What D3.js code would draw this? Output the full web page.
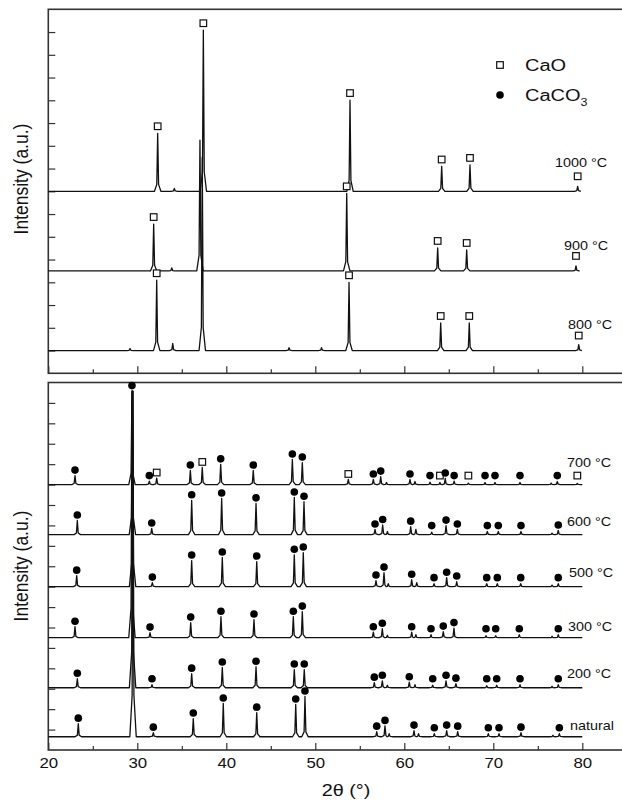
<!DOCTYPE html>
<html>
<head>
<meta charset="utf-8">
<script src="https://cdn.jsdelivr.net/npm/d3@7"></script>
<style>
    body { margin: 0; background: #fff; }
    svg { display: block; font-family: "Liberation Sans", Arial, sans-serif; }
    .trace { fill: none; stroke: #111; stroke-width: 1.3; stroke-linejoin: round; }
    .frame { fill: none; stroke: #333; stroke-width: 1.6; }
    .tick line { stroke: #333; stroke-width: 1.2; }
    .sq { fill: #fff; stroke: #111; stroke-width: 1.2; }
    .dot { fill: #000; }
</style>
</head>
<body>
<svg id="chart"></svg>
<script>
// 2theta axis
const thetaMajor = [20, 30, 40, 50, 60, 70, 80]
const thetaMinor = [25, 35, 45, 55, 65, 75]

// intensity ticks (arbitrary counts)
const topTicks = d3.range(100, 1600, 100)
const bottomTicks = d3.range(100, 1800, 100)

// peaks: [2theta, height above baseline, phase]  phase: 'o' = CaO, 'c' = CaCO3, '' = unmarked
const topLabels = ['1000 °C', '900 °C', '800 °C']
const topBaselines = [800, 450, 100]
const topEnds = [79.7, 79.7, 79.75]
const topPeaks = [
    [[32.29, 255, 'o'], [34.16, 13, ''], [37.42, 708, 'o'], [53.9, 401, 'o'], [64.2, 109, 'o'], [67.38, 116, 'o'], [79.48, 22, 'o']],
    [[31.84, 206, 'o'], [33.87, 13, ''], [37.04, 575, ''], [53.53, 341, 'o'], [63.75, 101, 'o'], [67.01, 92, 'o'], [79.29, 22, 'o']],
    [[29.18, 9, ''], [32.18, 309, 'o'], [33.98, 31, ''], [37.3, 850, ''], [47.05, 13, ''], [50.7, 13, ''], [53.79, 300, 'o'], [64.09, 121, 'o'], [67.3, 121, 'o'], [79.6, 26, 'o']]
]

const bottomLabels = ['700 °C', '600 °C', '500 °C', '300 °C', '200 °C', 'natural']
const bottomBaselines = [1300, 1055, 800, 550, 305, 65]
const bottomEnds = [80, 80, 80, 80, 80, 80]
const bottomPeaks = [
    [[23.0, 44, 'c'], [29.40, 458, 'c'], [31.35, 17, 'c'], [32.18, 32, 'o'], [35.96, 69, 'c'], [37.3, 84, 'o'], [39.37, 99, 'c'], [43.03, 69, 'c'], [47.42, 123, 'c'], [48.54, 108, 'c'], [53.71, 25, 'o'], [56.52, 25, 'c'], [57.35, 39, 'c'], [58.0, 10, ''], [60.64, 25, 'c'], [61.2, 15, ''], [62.89, 12, 'c'], [64.0, 10, 'o'], [64.6, 30, 'c'], [65.6, 17, 'c'], [67.2, 7, 'o'], [69.07, 10, 'c'], [70.19, 10, 'c'], [73.0, 10, 'c'], [76.5, 7, ''], [77.19, 15, 'c'], [79.44, 5, 'o']],
    [[23.26, 69, 'c'], [29.45, 703, ''], [31.62, 30, 'c'], [36.11, 168, 'c'], [39.48, 177, 'c'], [43.34, 153, 'c'], [47.64, 182, 'c'], [48.73, 161, 'c'], [56.71, 25, 'c'], [57.57, 47, 'c'], [58.1, 15, ''], [60.72, 39, 'c'], [61.3, 25, ''], [63.08, 12, 'c'], [64.69, 44, 'c'], [65.96, 25, 'c'], [69.33, 15, 'c'], [70.56, 15, 'c'], [73.11, 15, 'c'], [76.6, 7, ''], [77.3, 20, 'c']],
    [[23.19, 54, 'c'], [29.47, 958, ''], [31.69, 20, 'c'], [36.11, 128, 'c'], [39.55, 143, 'c'], [43.42, 123, 'c'], [47.64, 156, 'c'], [48.65, 167, 'c'], [56.82, 30, 'c'], [57.72, 69, 'c'], [58.2, 15, ''], [60.83, 34, 'c'], [61.4, 20, ''], [63.34, 15, 'c'], [64.76, 44, 'c'], [65.89, 25, 'c'], [69.26, 15, 'c'], [70.45, 15, 'c'], [73.08, 15, 'c'], [76.6, 7, ''], [77.3, 15, 'c']],
    [[23.0, 54, 'c'], [29.40, 1208, ''], [31.43, 25, 'c'], [36.0, 74, 'c'], [39.4, 103, 'c'], [43.11, 89, 'c'], [47.53, 103, 'c'], [48.54, 128, 'c'], [56.52, 27, 'c'], [57.53, 44, 'c'], [58.1, 12, ''], [60.83, 27, 'c'], [61.3, 15, ''], [63.0, 15, 'c'], [64.38, 30, 'c'], [65.58, 47, 'c'], [69.18, 10, 'c'], [70.27, 10, 'c'], [72.92, 15, 'c'], [76.6, 7, ''], [77.3, 15, 'c']],
    [[23.26, 44, 'c'], [29.47, 1453, ''], [31.65, 15, 'c'], [36.11, 69, 'c'], [39.55, 99, 'c'], [43.34, 103, 'c'], [47.64, 89, 'c'], [48.76, 89, 'c'], [56.63, 25, 'c'], [57.53, 34, 'c'], [58.1, 12, ''], [60.56, 27, 'c'], [61.2, 15, ''], [63.19, 12, 'c'], [64.69, 34, 'c'], [65.8, 20, 'c'], [69.26, 10, 'c'], [70.38, 12, 'c'], [73.0, 15, 'c'], [76.6, 7, ''], [77.3, 15, 'c']],
    [[23.37, 64, 'c'], [29.52, 1693, ''], [31.8, 20, 'c'], [36.29, 89, 'c'], [39.66, 163, 'c'], [43.42, 118, 'c'], [47.8, 158, 'c'], [48.84, 197, 'c'], [56.9, 25, 'c'], [57.83, 53, 'c'], [58.3, 15, ''], [61.09, 30, 'c'], [61.6, 15, ''], [63.37, 15, 'c'], [64.76, 30, 'c'], [66.0, 25, 'c'], [69.44, 15, 'c'], [70.64, 15, 'c'], [73.11, 20, 'c'], [76.7, 7, ''], [77.42, 15, 'c']]
]

const legendItems = [['o', 'CaO'], ['c', 'CaCO', '3']]

// label placement (px), layout only
const topLabelX = [555, 564, 568]
const topLabelDy = [-24, -21, -21.5]
const bottomLabelX = [567, 567, 569, 568, 567, 570]
const bottomLabelDy = [-17.5, -9, -10, -6.5, -9.5, -7]

const width = 622
const height = 800
const stretch = 'scale(1.2,1)'

const svg = d3.select('#chart')
    .attr('width', width)
    .attr('height', height)

const x = d3.scaleLinear()
    .domain([20, 85])
    .range([48.3, 626.8])

// spike drawn for each peak: foot half-width and a narrow waist near the base
const footW = 0.36
const waistW = 0.1
const waistH = 0.12

const tracePoints = (base, peaks, end) => {
    const sorted = peaks.slice().sort((a, b) => a[0] - b[0])
    const pts = [[20, base]]
    sorted.forEach((p, i) => {
        const prev = sorted[i - 1]
        const next = sorted[i + 1]
        const wl = prev ? Math.min(footW, (p[0] - prev[0]) / 2) : footW
        const wr = next ? Math.min(footW, (next[0] - p[0]) / 2) : footW
        pts.push(
            [p[0] - wl, base],
            [p[0] - Math.min(waistW, wl / 2), base + p[1] * waistH],
            [p[0], base + p[1]],
            [p[0] + Math.min(waistW, wr / 2), base + p[1] * waistH],
            [p[0] + wr, base]
        )
    })
    const last = pts[pts.length - 1][0]
    pts.push([Math.max(end, last), base])
    return pts
}

const drawMarker = (g, phase, cx, cy) => {
    if (phase === 'o') {
        g.append('rect')
            .attr('class', 'sq')
            .attr('x', cx - 3.3)
            .attr('y', cy - 3.3)
            .attr('width', 6.6)
            .attr('height', 6.6)
    } else {
        g.append('circle')
            .attr('class', 'dot')
            .attr('cx', cx)
            .attr('cy', cy)
            .attr('r', 3.8)
    }
}

const drawPanel = (cfg) => {

    const y = d3.scaleLinear()
        .domain(cfg.domain)
        .range([cfg.bottom, cfg.top])

    const g = svg.append('g')

    // frame
    g.append('rect')
        .attr('class', 'frame')
        .attr('x', x(20))
        .attr('y', cfg.top)
        .attr('width', x(85) - x(20))
        .attr('height', cfg.bottom - cfg.top)

    // y ticks (inward, no labels)
    g.append('g')
        .attr('transform', `translate(${x(20)},0)`)
        .call(d3.axisLeft(y).tickValues(cfg.ticks).tickSizeInner(-7).tickSizeOuter(0).tickFormat(''))
        .call(a => a.select('.domain').remove())

    // x ticks
    const xMajor = g.append('g')
        .attr('transform', `translate(0,${cfg.bottom})`)
        .call(d3.axisBottom(x).tickValues(thetaMajor).tickSizeInner(-7).tickSizeOuter(0).tickPadding(8)
            .tickFormat(cfg.xLabels ? d3.format('d') : ''))
        .call(a => a.select('.domain').remove())

    xMajor.selectAll('text')
        .attr('font-size', 14)
        .attr('fill', '#111')
        .attr('font-family', '"Liberation Sans", Arial, sans-serif')
        .attr('transform', stretch)

    g.append('g')
        .attr('transform', `translate(0,${cfg.bottom})`)
        .call(d3.axisBottom(x).tickValues(thetaMinor).tickSizeInner(-4).tickSizeOuter(0).tickFormat(''))
        .call(a => a.select('.domain').remove())

    // traces
    const line = d3.line()
        .x(d => x(d[0]))
        .y(d => y(d[1]))

    cfg.peaks.forEach((peaks, i) => {
        g.append('path')
            .datum(tracePoints(cfg.baselines[i], peaks, cfg.ends[i]))
            .attr('class', 'trace')
            .attr('d', line)
    })

    // phase markers
    cfg.peaks.forEach((peaks, i) => {
        const base = cfg.baselines[i]
        peaks.filter(p => p[2]).forEach(p => {
            const my = Math.min(y(base + p[1]) - cfg.markGap, y(base) - cfg.markMin)
            drawMarker(g, p[2], x(p[0]), my)
        })
    })

    // temperature labels
    cfg.labels.forEach((t, i) => {
        g.append('text')
            .attr('transform', `translate(${cfg.labelX[i]},${y(cfg.baselines[i]) + cfg.labelDy[i]}) ${stretch}`)
            .attr('font-size', 12)
            .attr('fill', '#111')
            .text(t)
    })

    // y label
    g.append('text')
        .attr('transform', `translate(28,${cfg.yLabelY}) ${stretch} rotate(-90)`)
        .attr('text-anchor', 'middle')
        .attr('font-size', 17.5)
        .attr('fill', '#111')
        .text('Intensity (a.u.)')

    return y
}

drawPanel({
    top: 9.3,
    bottom: 373.3,
    domain: [0, 1600],
    ticks: topTicks,
    peaks: topPeaks,
    baselines: topBaselines,
    ends: topEnds,
    labels: topLabels,
    labelX: topLabelX,
    labelDy: topLabelDy,
    markGap: 7,
    markMin: 15,
    xLabels: false,
    yLabelY: 179
})

drawPanel({
    top: 382.5,
    bottom: 750,
    domain: [0, 1800],
    ticks: bottomTicks,
    peaks: bottomPeaks,
    baselines: bottomBaselines,
    ends: bottomEnds,
    labels: bottomLabels,
    labelX: bottomLabelX,
    labelDy: bottomLabelDy,
    markGap: 5.5,
    markMin: 9,
    xLabels: true,
    yLabelY: 566
})

// legend
const legend = svg.append('g')
legendItems.forEach((d, i) => {
    const ly = 65 + i * 30
    drawMarker(legend, d[0], 500, ly)
    const t = legend.append('text')
        .attr('transform', `translate(525,${ly + 6}) scale(1.25,1)`)
        .attr('font-size', 16)
        .attr('fill', '#111')
        .text(d[1])
    if (d[2]) {
        t.append('tspan')
            .attr('dy', 5)
            .attr('font-size', 10)
            .text(d[2])
    }
})

// x axis title
svg.append('text')
    .attr('transform', `translate(346,796) ${stretch}`)
    .attr('text-anchor', 'middle')
    .attr('font-size', 16.5)
    .attr('fill', '#111')
    .text('2θ (°)')
</script>
</body>
</html>
